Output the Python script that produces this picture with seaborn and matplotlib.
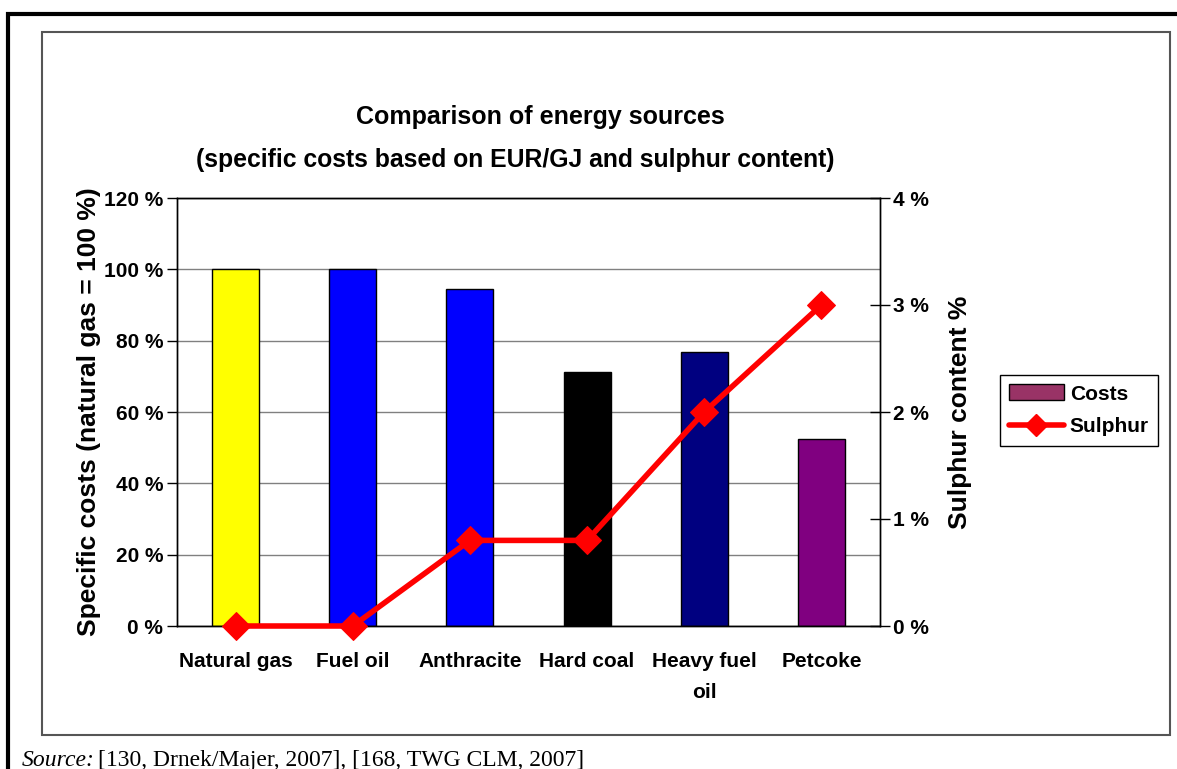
import numpy as np
import pandas as pd
import matplotlib
matplotlib.use("Agg")
import matplotlib.pyplot as plt
import seaborn as sns
from matplotlib.patches import Patch, Rectangle
from matplotlib.lines import Line2D

# data
categories = ["Natural gas", "Fuel oil", "Anthracite", "Hard coal", "Heavy fuel\noil", "Petcoke"]
costs = [100, 100, 94.5, 71.2, 76.8, 52.4]          # % of natural gas
sulphur = [0, 0, 0.8, 0.8, 2.0, 3.0]                # sulphur content %
bar_colors = ["#FFFF00", "#0000FF", "#0000FF", "#000000", "#000080", "#800080"]
left_ticks = [0, 20, 40, 60, 80, 100, 120]
right_ticks = [0, 1, 2, 3, 4]

sns.set_style("white")
plt.rcParams['font.family'] = ['Liberation Sans', 'DejaVu Sans']
plt.rcParams.update({"text.color": "black", "axes.labelcolor": "black",
                     "xtick.color": "black", "ytick.color": "black"})

W, H = 1177, 769
fig = plt.figure(figsize=(W / 100, H / 100), dpi=100)

def px(x0, y0, x1, y1):
    # pixel box (top-left origin) -> figure fraction rect
    return [x0 / W, 1 - y1 / H, (x1 - x0) / W, (y1 - y0) / H]

# outer page frame and chart frame
fig.patches.append(Rectangle((8 / W, -0.1), 1.2, 1 - 14 / H + 0.1, transform=fig.transFigure,
                             fill=False, edgecolor="black", lw=3))
fig.patches.append(Rectangle((42 / W, 1 - 735 / H), (1170 - 42) / W, (735 - 32) / H,
                             transform=fig.transFigure, fill=False, edgecolor="#555555", lw=1.5))

ax = fig.add_axes(px(177, 198, 880, 626))
df = pd.DataFrame({"cat": categories, "cost": costs})
sns.barplot(data=df, x="cat", y="cost", hue="cat", palette=bar_colors, legend=False,
            saturation=1, width=0.4, edgecolor="black", linewidth=1, ax=ax, zorder=2)
ax.set_xlim(-0.5, len(categories) - 0.5)
ax.set_ylim(0, 120)
ax.set_yticks(left_ticks)
ax.set_yticklabels([f"{v} %" for v in left_ticks], fontweight="bold", fontsize=15)
ax.yaxis.grid(True, color="#808080", lw=1, zorder=0)
ax.set_axisbelow(True)
ax.set_xticks(range(len(categories)))
ax.set_xticklabels(categories, fontweight="bold", fontsize=15, linespacing=1.75, va="top")
ax.set_xticks(np.arange(-0.5, len(categories), 1), minor=True)
ax.tick_params(axis="x", which="major", length=0, pad=19)
ax.tick_params(axis="x", which="minor", length=8, width=1, color="black", direction="out")
ax.tick_params(axis="y", length=7, width=1, color="black", direction="out", pad=3, left=True)
ax.set_xlabel("")
ax.set_ylabel("Specific costs (natural gas = 100 %)", fontweight="bold", fontsize=19, labelpad=2)
for s in ax.spines.values():
    s.set_color("black")
    s.set_linewidth(1)

ax2 = ax.twinx()
sns.lineplot(x=np.arange(len(categories)), y=sulphur, ax=ax2, color="#FF0000", lw=4,
             marker="D", markersize=14, markeredgecolor="#FF0000", zorder=5, clip_on=False)
ax2.set_ylim(0, 4)
ax2.set_yticks(right_ticks)
ax2.set_yticklabels([f"{v} %" for v in right_ticks], fontweight="bold", fontsize=15)
ax2.tick_params(axis="y", length=14, width=1, color="black", direction="inout", pad=2, right=True)
ax2.set_ylabel("Sulphur content %", fontweight="bold", fontsize=19, labelpad=14)
for s in ax2.spines.values():
    s.set_color("black")
    s.set_linewidth(1)

fig.text(540 / W, 1 - 117 / H, "Comparison of energy sources", ha="center", va="center",
         fontweight="bold", fontsize=18)
fig.text(515 / W, 1 - 160 / H, "(specific costs based on EUR/GJ and sulphur content)",
         ha="center", va="center", fontweight="bold", fontsize=17.8)

handles = [Patch(facecolor="#993366", edgecolor="black", label="Costs"),
           Line2D([0], [0], color="#FF0000", lw=4, marker="D", markersize=11, label="Sulphur")]
leg = fig.legend(handles=handles, loc="upper left", bbox_to_anchor=(1000 / W, 1 - 375 / H),
                 frameon=True, fancybox=False, framealpha=1, edgecolor="black",
                 prop={"weight": "bold", "size": 15}, handlelength=2.6, handleheight=0.8,
                 borderpad=0.45, labelspacing=0.65, handletextpad=0.3, borderaxespad=0)
leg.get_frame().set_linewidth(1)

fig.text(22 / W, 1 - 750 / H, "Source:", style="italic", fontsize=17, va="top",
         family="Liberation Serif")
fig.text(98 / W, 1 - 750 / H, "[130, Drnek/Majer, 2007], [168, TWG CLM, 2007]", fontsize=17,
         va="top", family="Liberation Serif")

fig.savefig("out.png", dpi=100)
